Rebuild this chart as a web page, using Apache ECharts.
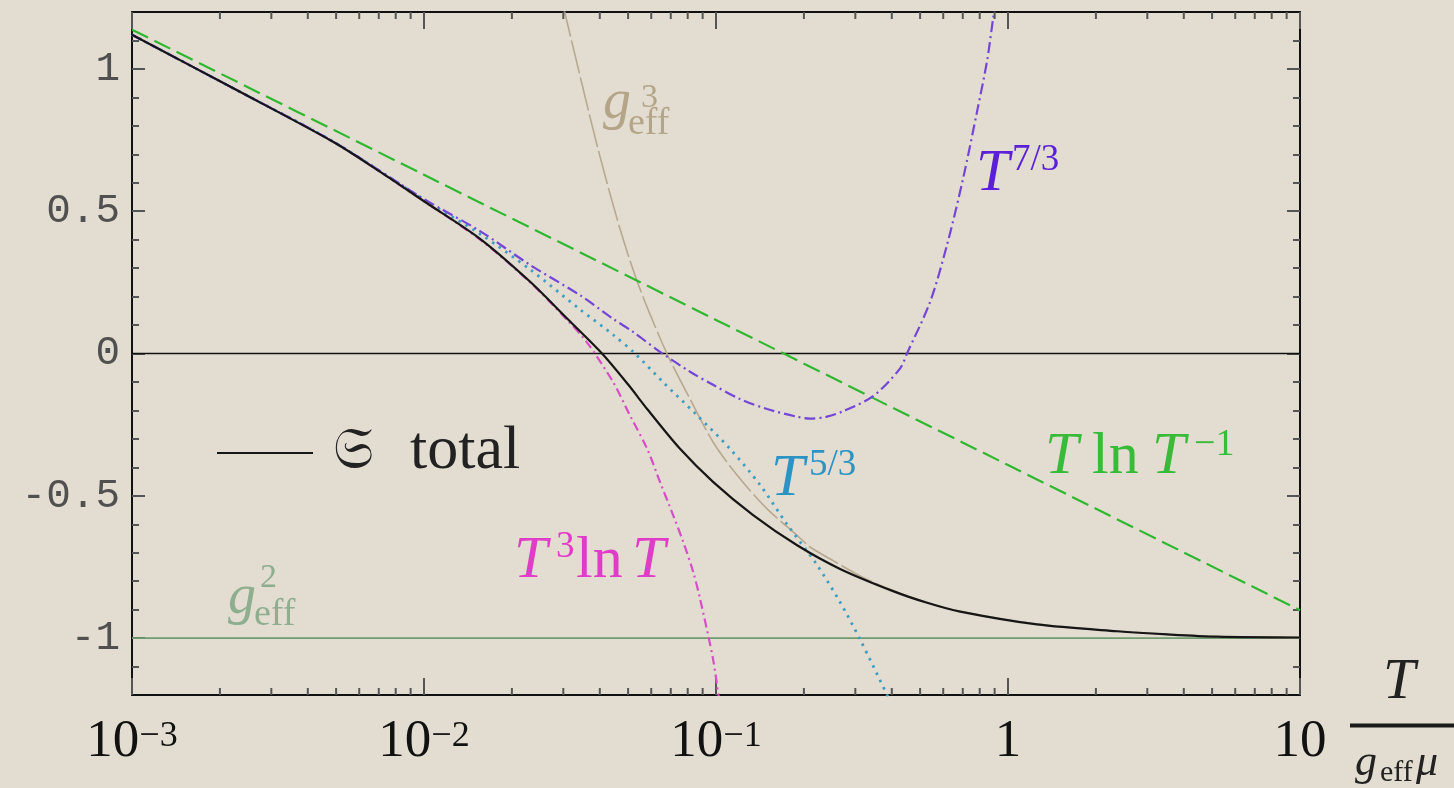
<!DOCTYPE html>
<html><head><meta charset="utf-8">
<script src="https://cdn.jsdelivr.net/npm/echarts@6/dist/echarts.min.js"></script>
<style>html,body{margin:0;padding:0;background:#e3ddd1;overflow:hidden}#c{width:1454px;height:788px}</style>
</head><body><div id="c"></div>
<script>
// ---------------- data ----------------
const xMin = 0.001, xMax = 10, yMin = -1.2, yMax = 1.2;
const xTickBase = ['10', '10', '10', '1', '10'];
const xTickExp  = ['\u22123', '\u22122', '\u22121', '', ''];
const xMinorTicks = [0.002,0.003,0.004,0.005,0.006,0.007,0.008,0.009,
                     0.02,0.03,0.04,0.05,0.06,0.07,0.08,0.09,
                     0.2,0.3,0.4,0.5,0.6,0.7,0.8,0.9,
                     2,3,4,5,6,7,8,9];
const yTicks = [-1, -0.5, 0, 0.5, 1];
const yTickLabels = ['-1', '-0.5', '0', '0.5', '1'];
const yMinorTicks = [-1.1,-0.9,-0.8,-0.7,-0.6,-0.4,-0.3,-0.2,-0.1,0.1,0.2,0.3,0.4,0.6,0.7,0.8,0.9,1.1];

// S total (black)
const totalT = [0.001,0.00224,0.00488,0.00706,0.01,0.01556,0.0231,0.0309,0.0407,0.0501,0.0581,0.0753,0.0977,0.134,0.189,0.266,0.404,0.525,0.686,1.256,2.36,3.51,5.2,10];
const totalS = [1.12,0.93,0.744,0.639,0.535,0.403,0.252,0.123,0.0,-0.11,-0.195,-0.335,-0.451,-0.568,-0.673,-0.757,-0.835,-0.875,-0.907,-0.952,-0.976,-0.987,-0.995,-0.998];

// T^{7/3} (purple dash-dot)
const t73T = [0.001,0.00224,0.00488,0.01,0.01556,0.0231,0.0342,0.0444,0.052,0.0643,0.0815,0.0977,0.1208,0.1496,0.1892,0.21,0.24,0.2723,0.3451,0.4266,0.4508,0.5408,0.618,0.7015,0.7834,0.8472,0.8892,0.912];
const t73S = [1.12,0.93,0.745,0.543,0.43,0.311,0.205,0.122,0.076,0.006,-0.064,-0.11,-0.16,-0.195,-0.222,-0.229,-0.222,-0.203,-0.15,-0.053,0.0,0.181,0.381,0.614,0.85,1.026,1.177,1.25];

// T^{5/3} (blue dotted)
const t53T = [0.001,0.00224,0.00488,0.01,0.01556,0.0231,0.0342,0.0444,0.0528,0.0658,0.0861,0.1117,0.1416,0.175,0.2218,0.2661,0.3112,0.3882,0.4];
const t53S = [1.12,0.93,0.745,0.54,0.42,0.295,0.155,0.066,0.0,-0.1,-0.217,-0.335,-0.462,-0.6,-0.743,-0.874,-1.004,-1.207,-1.24];

// T^3 ln T (magenta dash-dot)
const t3lnT = [0.001,0.00224,0.00488,0.01,0.01556,0.0231,0.0309,0.0361,0.0444,0.0507,0.0581,0.0643,0.0713,0.0771,0.0834,0.0881,0.0977,0.1023,0.105];
const t3lnS = [1.12,0.93,0.744,0.535,0.40,0.25,0.118,0.04,-0.1,-0.217,-0.335,-0.451,-0.568,-0.66,-0.765,-0.86,-1.074,-1.21,-1.28];

// T ln T^{-1} (green dashed)
const tlnT = [0.001,0.01,0.1,1,10];
const tlnS = [1.138,0.628,0.118,-0.392,-0.902];

// g_eff^3 (tan long dash)
const g3T = [0.02985,0.0304,0.0391,0.0469,0.055,0.0679,0.0815,0.0977,0.118,0.1496,0.1892,0.21,0.2518,0.3162,0.404,0.525,0.686,1.256,2.36,3.51,5.2,10];
const g3S = [1.23,1.195,0.734,0.438,0.225,0.0,-0.16,-0.311,-0.427,-0.546,-0.638,-0.68,-0.728,-0.785,-0.833,-0.874,-0.906,-0.951,-0.975,-0.987,-0.995,-0.998];

// reference lines
const zeroT = [0.001, 10], zeroS = [0, 0];
const g2T = [0.001, 10], g2S = [-1, -1];

// ---------------- chart ----------------
const zip = (a, b) => a.map((v, i) => [v, b[i]]);
const serif = '"Liberation Serif", "DejaVu Serif", serif';
const tickCol = '#555';
const frameCol = '#111';

function tb(x, base, text, size, color, italic, family) {
  return { type: 'text', x: x, y: base - 0.34 * size, silent: true, z: 100,
    style: { text: text, fill: color, align: 'left', verticalAlign: 'middle',
      font: (italic ? 'italic ' : '') + size + 'px ' + (family || serif) } };
}

function lineSeries(name, T, S, color, width, type, z) {
  return { name, type: 'line', data: zip(T, S), symbol: 'none', smooth: 0.3,
    z: z, clip: true, silent: true,
    lineStyle: { color: color, width: width, type: type, cap: 'butt' } };
}

const chart = echarts.init(document.getElementById('c'), null, { renderer: 'canvas' });
const baseX = { type: 'log', logBase: 10, min: xMin, max: xMax, splitLine: { show: false },
  axisLine: { show: true, onZero: false, lineStyle: { color: frameCol, width: 2 } } };
const baseY = { type: 'value', min: yMin, max: yMax, splitLine: { show: false },
  axisLine: { show: true, onZero: false, lineStyle: { color: frameCol, width: 2 } } };

const option = {
  backgroundColor: '#e3ddd1',
  animation: false,
  grid: { left: 132, top: 12, right: 154, bottom: 93, containLabel: false, outerBoundsMode: 'none' },
  xAxis: [
    Object.assign({}, baseX, { position: 'bottom',
      axisTick: { show: true, inside: true, length: 17, lineStyle: { color: tickCol, width: 2 } },
      axisLabel: { show: true, margin: 24,
        formatter: function (v) {
          const i = Math.round(Math.log10(v)) + 3;
          const e = xTickExp[i];
          return '{b|' + xTickBase[i] + '}' + (e ? '{s|' + e + '}' : '');
        },
        rich: {
          b: { fontFamily: serif, fontSize: 53, color: '#111', lineHeight: 50, verticalAlign: 'bottom' },
          s: { fontFamily: serif, fontSize: 36, color: '#111', lineHeight: 22, verticalAlign: 'top' }
        } } }),
    Object.assign({}, baseX, { position: 'top',
      axisTick: { show: true, inside: true, length: 17, lineStyle: { color: tickCol, width: 2 } },
      axisLabel: { show: false } })
  ],
  yAxis: [
    Object.assign({}, baseY, { position: 'left',
      axisTick: { show: true, inside: true, length: 13, customValues: yTicks, lineStyle: { color: tickCol, width: 2 } },
      axisLabel: { show: true, margin: 12, customValues: yTicks,
        formatter: function (v) { const i = yTicks.indexOf(v); return i >= 0 ? yTickLabels[i] : ''; },
        fontFamily: '"Liberation Mono", "DejaVu Sans Mono", monospace', fontSize: 41, color: '#505050' } }),
    Object.assign({}, baseY, { position: 'left',
      axisLine: { show: false, onZero: false },
      axisTick: { show: true, inside: true, length: 7, customValues: yMinorTicks, lineStyle: { color: tickCol, width: 2 } },
      axisLabel: { show: false } }),
    Object.assign({}, baseY, { position: 'right',
      axisTick: { show: true, inside: true, length: 13, customValues: yTicks, lineStyle: { color: tickCol, width: 2 } },
      axisLabel: { show: false } }),
    Object.assign({}, baseY, { position: 'right',
      axisLine: { show: false, onZero: false },
      axisTick: { show: true, inside: true, length: 7, customValues: yMinorTicks, lineStyle: { color: tickCol, width: 2 } },
      axisLabel: { show: false } })
  ],
  series: [
    lineSeries('zero', zeroT, zeroS, '#111', 1.6, 'solid', 2),
    lineSeries('g2', g2T, g2S, '#6f9c6f', 1.6, 'solid', 2),
    lineSeries('g3', g3T, g3S, '#b7a890', 1.6, [34, 4], 3),
    lineSeries('TlnT', tlnT, tlnS, '#2fb82f', 2.2, [18, 7], 4),
    lineSeries('T3lnT', t3lnT, t3lnS, '#d84ec8', 2.2, [9, 4, 2, 4], 5),
    lineSeries('T53', t53T, t53S, '#3e9ec2', 2.8, [2.5, 5.5], 6),
    lineSeries('T73', t73T, t73S, '#7446d6', 2.2, [11, 4, 2, 4], 7),
    lineSeries('total', totalT, totalS, '#161616', 2.2, 'solid', 8),
    { type: 'custom', xAxisIndex: 0, yAxisIndex: 0, silent: true, clip: false, z: 9,
      data: xMinorTicks.map(v => [v, yMin]), encode: { x: 0, y: 1 },
      renderItem: function (params, api) {
        const v = api.value(0);
        const b = api.coord([v, yMin]);
        const t = api.coord([v, yMax]);
        return { type: 'group', children: [
          { type: 'line', shape: { x1: b[0], y1: b[1], x2: b[0], y2: b[1] - 7 }, style: { stroke: tickCol, lineWidth: 2 } },
          { type: 'line', shape: { x1: t[0], y1: t[1], x2: t[0], y2: t[1] + 7 }, style: { stroke: tickCol, lineWidth: 2 } }
        ] };
      } }
  ],
  graphic: [
    // curve labels
    tb(976, 195, 'T', 60, '#5a1fd6', true), tb(1012, 173, '7/3', 37, '#5a1fd6', false),
    tb(771, 500, 'T', 60, '#2a94c4', true), tb(809, 478, '5/3', 37, '#2a94c4', false),
    tb(514, 582, 'T', 60, '#e03cc8', true), tb(556, 560, '3', 37, '#e03cc8', false),
    tb(576, 582, 'ln', 60, '#e03cc8', false), tb(632, 582, 'T', 60, '#e03cc8', true),
    tb(1045, 478, 'T', 60, '#38bb38', true), tb(1092, 478, 'ln', 60, '#38bb38', false),
    tb(1152, 478, 'T', 60, '#38bb38', true), tb(1194, 458, '\u22121', 38, '#38bb38', false),
    tb(603, 122, 'g', 56, '#b4a488', true), tb(628, 137, 'eff', 38, '#b4a488', false), tb(641, 110, '3', 34, '#b4a488', false),
    tb(228, 617, 'g', 56, '#8fae8f', true), tb(254, 628, 'eff', 38, '#8fae8f', false), tb(260, 590, '2', 34, '#8fae8f', false),
    // legend
    { type: 'line', silent: true, z: 100, shape: { x1: 217, y1: 453, x2: 313, y2: 453 }, style: { stroke: '#161616', lineWidth: 2 } },
    tb(333, 473, '\uD835\uDD16', 58, '#222', false, '"DejaVu Serif", "DejaVu Sans", serif'),
    tb(410, 473, 'total', 62, '#222', false),
    // axis name  T / (g_eff mu)
    tb(1383, 702, 'T', 58, '#222', true),
    { type: 'line', silent: true, z: 100, shape: { x1: 1350, y1: 725.5, x2: 1460, y2: 725.5 }, style: { stroke: '#1a1a1a', lineWidth: 4 } },
    tb(1355, 778, 'g', 44, '#222', true), tb(1380, 783, 'eff', 30, '#222', false), tb(1416, 778, '\u03BC', 44, '#222', true)
  ]
};
chart.setOption(option);
</script>
</body></html>
